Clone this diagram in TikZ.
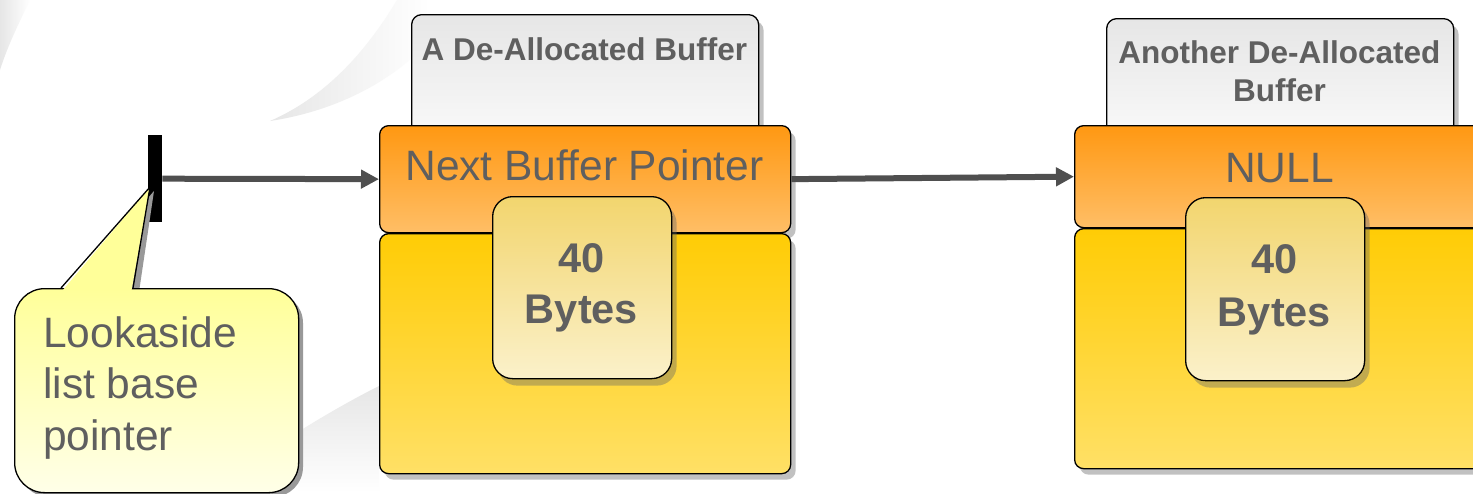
\documentclass[tikz,border=0pt]{standalone}
\usepackage{fontspec}
\setmainfont{Liberation Sans}
\usetikzlibrary{shadows,arrows.meta}
\definecolor{txt}{HTML}{5F5F5F}
\definecolor{arr}{HTML}{4F4F4F}
\definecolor{hdrtop}{HTML}{E6E6E6}
\definecolor{hdrbot}{HTML}{FAFAFA}
\definecolor{orgtop}{HTML}{FF9812}
\definecolor{orgbot}{HTML}{FFBE66}
\definecolor{yeltop}{HTML}{FFCC05}
\definecolor{yelbot}{HTML}{FFE066}
\definecolor{bytop}{HTML}{F2D56E}
\definecolor{bybot}{HTML}{FBF1CA}
\definecolor{calltop}{HTML}{FFFF99}
\definecolor{callbot}{HTML}{FFFFE8}
\definecolor{swooshdark}{HTML}{E6E6E6}
\tikzset{
  shad/.style={drop shadow={shadow xshift=5pt, shadow yshift=-6pt, fill=black!60, opacity=0.4}},
  boxline/.style={draw=black, line width=1.3pt},
  hdrbox/.style={boxline, shad, rounded corners=10pt, top color=hdrtop, bottom color=hdrbot,
    minimum width=347pt, minimum height=130pt, anchor=north west, inner sep=0pt},
  ptrbox/.style={boxline, shad, rounded corners=9pt, top color=orgtop, bottom color=orgbot,
    minimum width=411pt, anchor=north west, inner sep=0pt},
  databox/.style={boxline, shad, rounded corners=9pt, top color=yeltop, bottom color=yelbot,
    minimum width=411pt, minimum height=240pt, anchor=north west, inner sep=0pt},
  bytebox/.style={boxline, drop shadow={shadow xshift=5pt, shadow yshift=-7pt, fill=black!60, opacity=0.4},
    rounded corners=20pt, top color=bytop, bottom color=bybot,
    minimum width=179pt, anchor=north west, inner sep=0pt},
  hdrtext/.style={text=txt, font=\bfseries\fontsize{31.5}{38}\selectfont, anchor=base, inner sep=0pt},
  bigtext/.style={text=txt, font=\fontsize{42.5}{50}\selectfont, anchor=base, inner sep=0pt},
  calltext/.style={text=txt, font=\fontsize{42.5}{50}\selectfont, anchor=base west, inner sep=0pt},
  bytetext/.style={text=txt, font=\bfseries\fontsize{41.5}{50}\selectfont, anchor=base, inner sep=0pt},
  link/.style={draw=arr, line width=6pt, -{Triangle[length=18pt,width=18pt]}},
}
\begin{document}
\begin{tikzpicture}[x=1pt,y=-1pt]
\useasboundingbox (0,0) rectangle (1473,493);
\clip (0,0) rectangle (1473,493);
\fill[white] (0,0) rectangle (1473,493);
% faint background swooshes
\shade[left color=swooshdark, right color=white] (397,0) .. controls (370,45) and (330,95) .. (270,121)
   .. controls (330,112) and (390,85) .. (430,40) -- (430,0) -- cycle;
\shade[left color=swooshdark, right color=white] (0,0) -- (30,0) .. controls (18,25) and (8,45) .. (0,70) -- cycle;
\shade[top color=swooshdark, bottom color=white] (298,432) .. controls (325,415) and (355,398) .. (379,386) -- (379,493) -- (298,493) -- cycle;

% list base pointer bar
\node[fill=black, minimum width=14pt, minimum height=87pt, inner sep=0pt, anchor=north west] (bar) at (148,135) {};

% callout
\fill[black!40, rounded corners=30pt] (19,293) rectangle (303,497);
\fill[black!40] (66,292) -- (154,191) -- (139,292) -- cycle;
\node[boxline, rounded corners=30pt, top color=calltop, bottom color=callbot,
  minimum width=284pt, minimum height=204pt, anchor=north west, inner sep=0pt] (callout) at (14,288) {};
\fill[calltop] (62.5,290.5) -- (150,187) -- (131.5,290.5) -- cycle;
\draw[black, line width=1.3pt, line join=miter] (61,288) -- (150,187) -- (133,288);
\node[calltext] (c1) at (43,347) {Lookaside};
\node[calltext] (c2) at (43,398) {list base};
\node[calltext] (c3) at (43,450) {pointer};

% first buffer
\node[hdrbox] (hdr1) at (411,14) {};
\node[hdrtext] (hdr1t) at (584.5,60) {A De-Allocated Buffer};
\node[ptrbox, minimum height=107pt] (ptr1) at (379,125) {};
\node[bigtext] (ptr1t) at (584.5,180) {Next Buffer Pointer};
\node[databox] (data1) at (379,233) {};
\node[bytebox, minimum height=182pt] (bytes1) at (492,196) {};
\node[bytetext] (bytes1a) at (581.5,272) {40};
\node[bytetext] (bytes1b) at (581.5,323) {Bytes};

% second buffer
\node[hdrbox, minimum height=125pt] (hdr2) at (1106,18) {};
\node[hdrtext] (hdr2a) at (1279.5,63) {Another De-Allocated};
\node[hdrtext] (hdr2b) at (1279.5,101) {Buffer};
\node[ptrbox, minimum height=102pt] (ptr2) at (1074,125) {};
\node[bigtext] (ptr2t) at (1279.5,182) {NULL};
\node[databox] (data2) at (1074,228) {};
\node[bytebox, minimum height=183pt] (bytes2) at (1185,197) {};
\node[bytetext] (bytes2a) at (1274.5,273) {40};
\node[bytetext] (bytes2b) at (1274.5,326) {Bytes};

% links
\draw[link] (bar.east) -- (ptr1.west);
\draw[link] (ptr1.east) -- (ptr2.west);
\end{tikzpicture}
\end{document}
